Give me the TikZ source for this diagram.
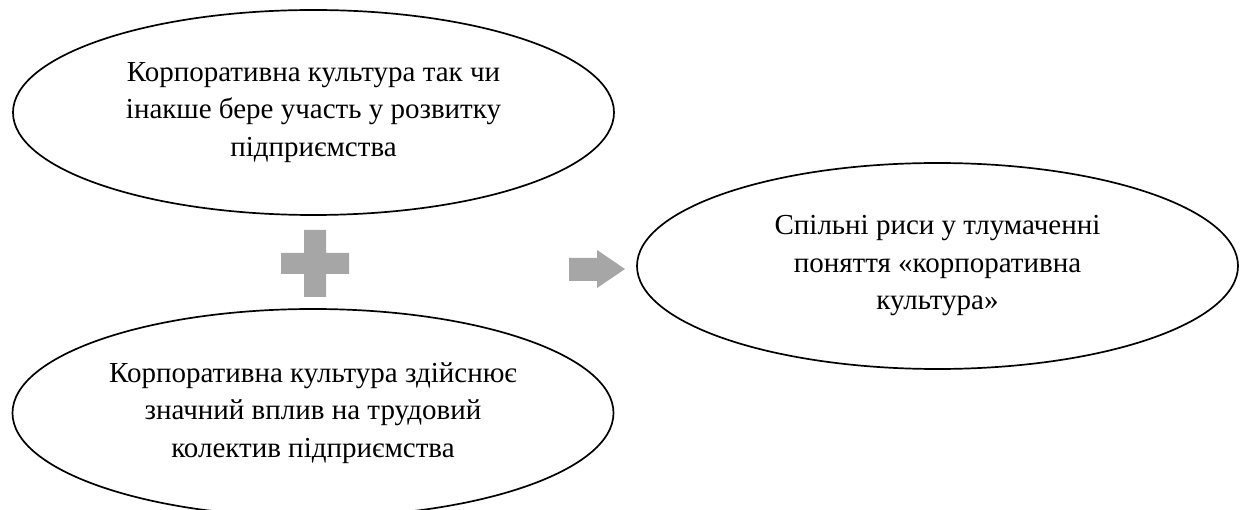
\documentclass[tikz,border=0pt]{standalone}
\usepackage{fontspec}
\setmainfont{Liberation Serif}
\usetikzlibrary{shapes.geometric}
\tikzset{
  oval/.style={ellipse, draw=black, line width=1.7pt, minimum width=601pt, minimum height=205pt,
    inner sep=0pt, align=center, font=\fontsize{29}{37.5}\selectfont},
  grayshape/.style={fill=black!35, draw=none}
}
\begin{document}
\begin{tikzpicture}[x=1pt,y=-1pt]
\useasboundingbox (0,0) rectangle (1245,510);
\clip (0,0) rectangle (1245,510);
\node[oval] (top) at (313.5,112.5) {Корпоративна культура так чи\\інакше бере участь у розвитку\\підприємства};
\node[oval, minimum height=208pt] (bot) at (313,413) {Корпоративна культура здійснює\\значний вплив на трудовий\\колектив підприємства};
\node[oval, minimum height=206pt] (res) at (937.5,266) {Спільні риси у тлумаченні\\поняття «корпоративна\\культура»};
% plus sign
\fill[grayshape] (304,230) -- (326,230) -- (326,253) -- (349,253) -- (349,274) -- (326,274)
  -- (326,297) -- (304,297) -- (304,274) -- (281,274) -- (281,253) -- (304,253) -- cycle;
% block arrow
\fill[grayshape] (569,258) -- (597,258) -- (597,250) -- (625,269) -- (597,288) -- (597,281)
  -- (569,281) -- cycle;
\end{tikzpicture}
\end{document}
